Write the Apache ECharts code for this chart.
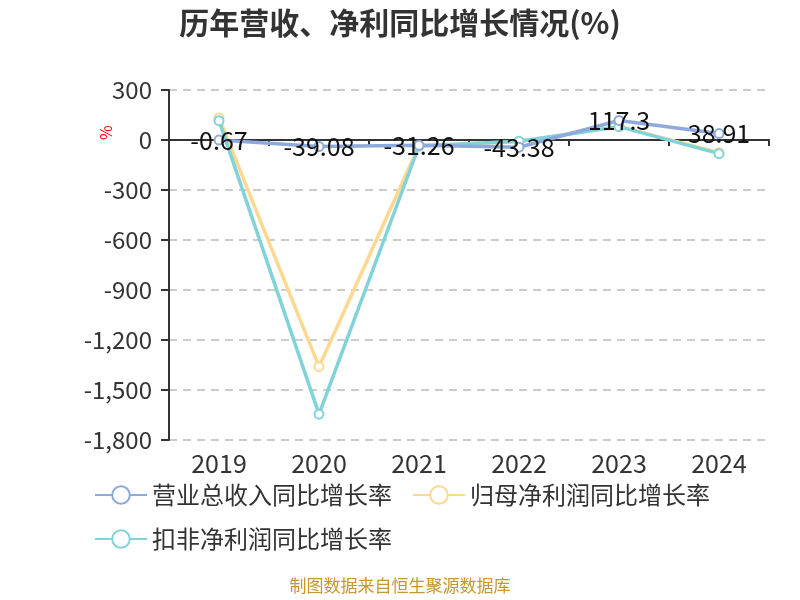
<!DOCTYPE html>
<html><head><meta charset="utf-8">
<script src="https://cdn.jsdelivr.net/npm/echarts@6/dist/echarts.min.js"></script>
<style>html,body{margin:0;padding:0;background:#fff}#c{width:800px;height:600px}</style>
</head><body><div id="c"></div>
<script>
const years = ['2019','2020','2021','2022','2023','2024'];
const revenueGrowth = [-0.67, -39.08, -31.26, -43.38, 117.3, 38.91];
const netProfitGrowth = [132, -1360, -34, -10, 82, -76];
const deductedProfitGrowth = [116, -1645, -36, -7, 80, -82];
const yTicks = {min: -1800, max: 300, interval: 300};

const font = '"Noto Sans CJK SC", "Microsoft YaHei", sans-serif';
const chart = echarts.init(document.getElementById('c'));
chart.setOption({
  animation: false,
  textStyle: {fontFamily: font},
  title: {text: '历年营收、净利同比增长情况(%)', left: 'center', top: 3,
    textStyle: {fontSize: 30, fontWeight: 'bold', color: '#333', fontFamily: font}},
  grid: {left: 169, right: 31, top: 90, bottom: 160},
  legend: {left: 89, top: 478, right: 40, itemWidth: 52, itemHeight: 22, itemGap: 20,
    textStyle: {fontSize: 24, lineHeight: 22, color: '#333', fontFamily: font},
    data: ['营业总收入同比增长率', '归母净利润同比增长率', '扣非净利润同比增长率']},
  graphic: [
    {type: 'text', x: 98, y: 140, rotation: Math.PI / 2,
      style: {text: '%', fill: '#e00', fontSize: 16, fontFamily: font}},
    {type: 'text', left: 'center', top: 577,
      style: {text: '制图数据来自恒生聚源数据库', fill: '#c8962a', fontSize: 17, fontFamily: font}}
  ],
  xAxis: [
    {type: 'category', data: years, boundaryGap: true,
      axisLine: {onZero: true, lineStyle: {color: '#333', width: 2}},
      axisTick: {show: true, length: 6, lineStyle: {color: '#333', width: 2}},
      axisLabel: {show: false}, splitLine: {show: false}},
    {type: 'category', data: years, position: 'bottom', boundaryGap: true,
      axisLine: {show: false}, axisTick: {show: false},
      axisLabel: {fontSize: 25, color: '#333', margin: 11}}
  ],
  yAxis: {type: 'value', min: yTicks.min, max: yTicks.max, interval: yTicks.interval,
    axisLine: {show: true, lineStyle: {color: '#333', width: 2}},
    axisTick: {show: true, length: 8, lineStyle: {color: '#333', width: 2}},
    axisLabel: {fontSize: 24, color: '#333', margin: 17},
    splitLine: {lineStyle: {type: [8, 6], color: '#ccc', width: 2}}},
  series: [
    {name: '营业总收入同比增长率', type: 'line', data: revenueGrowth, xAxisIndex: 0,
      symbol: 'emptyCircle', symbolSize: 9, z: 3,
      lineStyle: {width: 3.5, color: '#8eaadc'}, itemStyle: {color: '#8eaadc'},
      label: {show: true, position: 'inside', fontSize: 25, color: '#111', fontFamily: font}},
    {name: '归母净利润同比增长率', type: 'line', data: netProfitGrowth, xAxisIndex: 0,
      symbol: 'emptyCircle', symbolSize: 9, z: 2,
      lineStyle: {width: 3.5, color: '#fed891'}, itemStyle: {color: '#fed891'}},
    {name: '扣非净利润同比增长率', type: 'line', data: deductedProfitGrowth, xAxisIndex: 0,
      symbol: 'emptyCircle', symbolSize: 9, z: 2,
      lineStyle: {width: 3.5, color: '#80d4d9'}, itemStyle: {color: '#80d4d9'}}
  ]
});
</script></body></html>
